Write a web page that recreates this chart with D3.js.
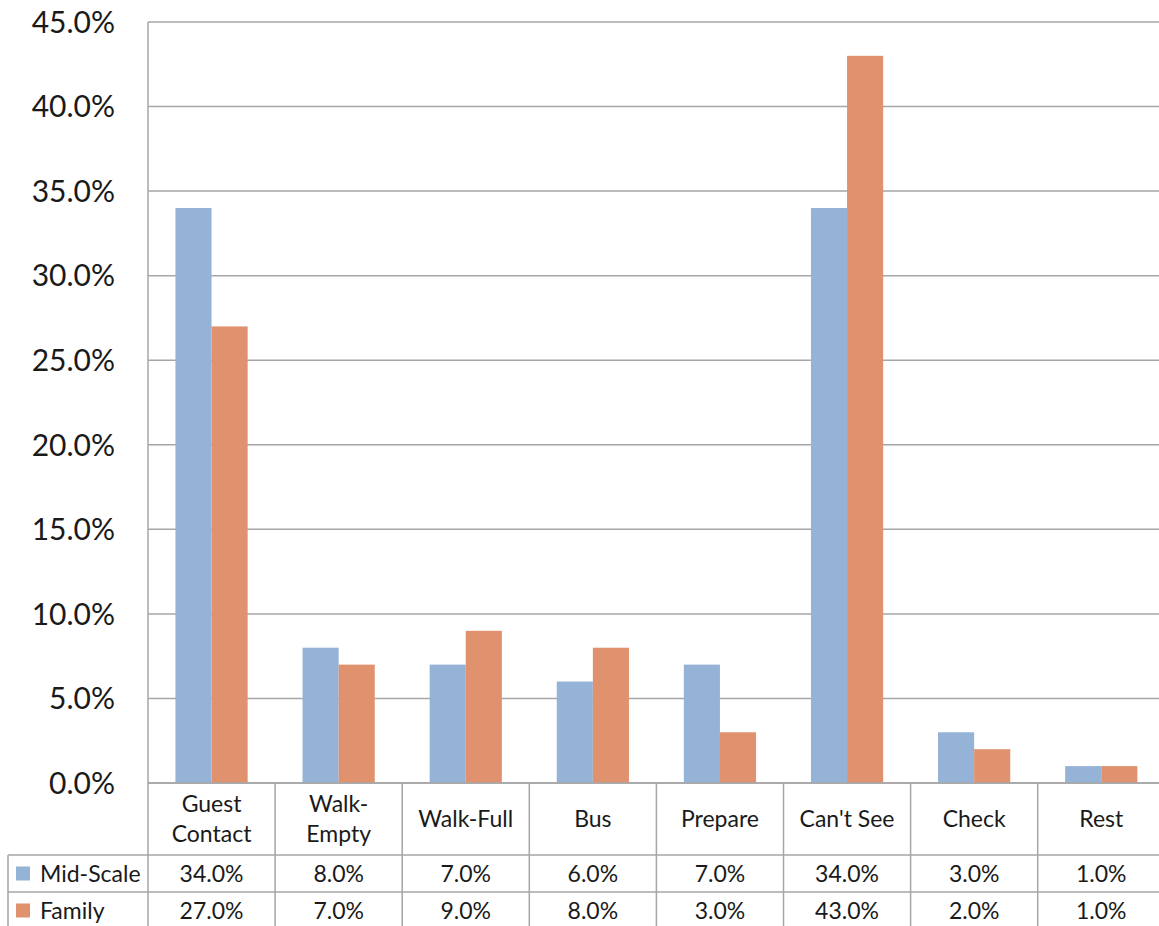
<!DOCTYPE html>
<html>
<head>
<meta charset="utf-8">
<script src="https://cdn.jsdelivr.net/npm/d3@7"></script>
<style>
  html, body { margin: 0; padding: 0; background: #fff; overflow: hidden; }
  svg { display: block; font-family: Lato, "Open Sans", sans-serif; }
</style>
</head>
<body>
<svg id="chart" width="1159" height="926"></svg>
<script>
// Share of time by activity, two restaurant segments
const categories = [["Guest", "Contact"], ["Walk-", "Empty"], ["Walk-Full"], ["Bus"], ["Prepare"], ["Can't See"], ["Check"], ["Rest"]];
const seriesNames = ["Mid-Scale", "Family"];
const midScale = [34, 8, 7, 6, 7, 34, 3, 1];
const family = [27, 7, 9, 8, 3, 43, 2, 1];
const yTicks = [0, 5, 10, 15, 20, 25, 30, 35, 40, 45];
const colors = ["#95B3D7", "#E0926F"];

const series = [midScale, family];
const svg = d3.select("#chart");

const plotLeft = 148, plotTop = 22, plotBottom = 783;
const catStep = 127.1;
const plotRight = plotLeft + catStep * categories.length;
const headerBottom = 855, rowH = 37;
const tableLeft = 8;
const gridColor = "#A6A6A6";

const x = d3.scaleBand()
  .domain(d3.range(categories.length))
  .range([plotLeft, plotRight])
  .padding(0);

const xs = d3.scaleBand()
  .domain(d3.range(series.length))
  .range([0, x.bandwidth()])
  .paddingInner(0)
  .paddingOuter(0.76);

const y = d3.scaleLinear().domain([0, 45]).range([plotBottom, plotTop]);

// horizontal gridlines
svg.append("g")
  .selectAll("line")
  .data(yTicks)
  .join("line")
  .attr("x1", plotLeft).attr("x2", plotRight)
  .attr("y1", d => y(d)).attr("y2", d => y(d))
  .attr("stroke", gridColor).attr("stroke-width", 1.5);

// y-axis labels
svg.append("g")
  .selectAll("text")
  .data(yTicks)
  .join("text")
  .attr("x", 115)
  .attr("y", d => y(d))
  .attr("dy", "0.36em")
  .attr("text-anchor", "end")
  .attr("font-size", 30)
  .attr("fill", "#1a1a1a")
  .text(d => d.toFixed(1) + "%");

// bars
const barG = svg.append("g");
series.forEach((vals, si) => {
  barG.append("g")
    .selectAll("rect")
    .data(vals)
    .join("rect")
    .attr("x", (d, i) => x(i) + xs(si))
    .attr("width", xs.bandwidth())
    .attr("y", d => y(d))
    .attr("height", d => y(0) - y(d))
    .attr("fill", colors[si]);
});

// axis line on the left
svg.append("line")
  .attr("x1", plotLeft).attr("x2", plotLeft)
  .attr("y1", plotTop).attr("y2", headerBottom + rowH * 2 + 2)
  .attr("stroke", gridColor).attr("stroke-width", 1.5);

// data table grid
const tableBottom = headerBottom + rowH * 2 + 2;
const tg = svg.append("g").attr("stroke", gridColor).attr("stroke-width", 1.5);
tg.append("line").attr("x1", plotLeft).attr("x2", plotRight).attr("y1", plotBottom).attr("y2", plotBottom);
[headerBottom, headerBottom + rowH, tableBottom].forEach(yy => {
  tg.append("line").attr("x1", tableLeft).attr("x2", plotRight).attr("y1", yy).attr("y2", yy);
});
tg.append("line").attr("x1", tableLeft).attr("x2", tableLeft).attr("y1", headerBottom).attr("y2", tableBottom);
tg.selectAll("line.cat")
  .data(d3.range(1, categories.length + 1))
  .join("line")
  .attr("class", "cat")
  .attr("x1", i => x(i - 1) + x.bandwidth()).attr("x2", i => x(i - 1) + x.bandwidth())
  .attr("y1", plotBottom).attr("y2", tableBottom);

// category labels
const headMid = (plotBottom + headerBottom) / 2;
svg.append("g")
  .selectAll("text")
  .data(categories)
  .join("text")
  .attr("text-anchor", "middle")
  .attr("font-size", 23)
  .attr("fill", "#1a1a1a")
  .attr("x", (d, i) => x(i) + x.bandwidth() / 2)
  .attr("y", d => d.length === 1 ? headMid : headMid - 15)
  .each(function(d) {
    const t = d3.select(this);
    d.forEach((line, li) => {
      t.append("tspan")
        .attr("x", t.attr("x"))
        .attr("dy", li === 0 ? "0.36em" : 30)
        .text(line);
    });
  });

// series rows
series.forEach((vals, si) => {
  const rowMid = headerBottom + rowH * si + rowH / 2;
  const row = svg.append("g");
  row.append("rect")
    .attr("x", 16).attr("y", rowMid - 7)
    .attr("width", 14).attr("height", 14)
    .attr("fill", colors[si]);
  row.append("text")
    .attr("x", 40).attr("y", rowMid).attr("dy", "0.36em")
    .attr("font-size", 23).attr("fill", "#1a1a1a")
    .text(seriesNames[si]);
  row.selectAll("text.val")
    .data(vals)
    .join("text")
    .attr("class", "val")
    .attr("x", (d, i) => x(i) + x.bandwidth() / 2)
    .attr("y", rowMid).attr("dy", "0.36em")
    .attr("text-anchor", "middle")
    .attr("font-size", 23).attr("fill", "#1a1a1a")
    .text(d => d.toFixed(1) + "%");
});
</script>
</body>
</html>
